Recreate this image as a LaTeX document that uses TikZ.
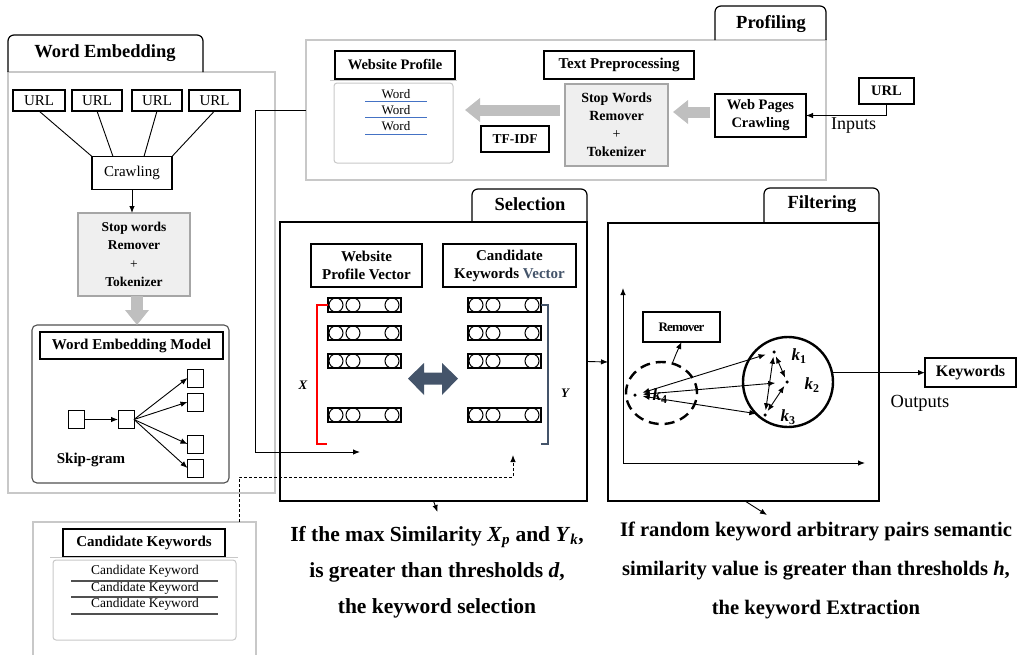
\documentclass[tikz,border=0pt]{standalone}
\usepackage{fontspec}
\setmainfont{Liberation Serif}
\usetikzlibrary{arrows.meta,shapes.geometric,calc}
\definecolor{panelgrey}{HTML}{C8C8C8}
\definecolor{boxgrey}{HTML}{EFEFEF}
\definecolor{arrowgrey}{HTML}{BFBFBF}
\definecolor{slate}{HTML}{44546A}
\definecolor{wordblue}{HTML}{4472C4}
\definecolor{ruleg}{HTML}{505050}
\newcommand\fs[1]{\fontsize{#1}{#1}\selectfont}
\newcommand\bvar[2]{\textbf{\textit{#1}}\textsubscript{\textbf{\textit{#2}}}}

\begin{document}
\begin{tikzpicture}[x=1pt,y=-1pt,
  every node/.style={inner sep=0pt, outer sep=0pt},
  panel/.style={draw=panelgrey, line width=1.2pt},
  frame/.style={draw=black, line width=1.4pt},
  tabline/.style={draw=black, line width=1.2pt, rounded corners=6pt},
  tabtext/.style={font=\fs{18.5}\bfseries},
  box/.style={draw=black, line width=1.2pt, align=center},
  greybox/.style={draw=gray!70, fill=boxgrey, line width=1.2pt, align=center},
  listbox/.style={draw=panelgrey, line width=1pt, rounded corners=3pt, fill=white},
  conn/.style={draw=black, line width=0.9pt},
  arr/.style={conn, -{Latex[length=7pt,width=5.5pt]}},
  biarr/.style={conn, {Latex[length=7pt,width=5.5pt]}-{Latex[length=7pt,width=5.5pt]}},
  bigarrow/.style={draw=arrowgrey, line width=11pt, -{Triangle[length=15pt,width=23pt]}},
  sq/.style={draw=black, line width=1pt, minimum width=16, minimum height=18},
  vrow/.style={draw=black, line width=1.2pt, minimum width=73, minimum height=14},
  dot/.style={circle, fill=black, minimum size=3.5},
  klab/.style={font=\fs{17}\bfseries},
]
\useasboundingbox (0,0) rectangle (1020,654);

% ---------------- Word Embedding ----------------
\node[panel, minimum width=267, minimum height=421, anchor=north west] (wep) at (8,72) {};
\draw[tabline] (wep.north west) -- ++(0,-37) -- ++(195,0) -- ++(0,37);
\node[tabtext] (wet) at (105,53) {Word Embedding};

\node[box, font=\fs{15}, minimum width=52, minimum height=21] (u1) at (39,100.5) {URL};
\node[box, font=\fs{15}, minimum width=50, minimum height=21] (u2) at (97,100.5) {URL};
\node[box, font=\fs{15}, minimum width=50, minimum height=21] (u3) at (157,100.5) {URL};
\node[box, font=\fs{15}, minimum width=51, minimum height=21] (u4) at (214.5,100.5) {URL};
\node[box, font=\fs{15}, minimum width=80, minimum height=33] (crawl) at (132,173) {Crawling};
\draw[conn] (u1.south) -- (crawl.north west);
\draw[conn] (u2.south) -- ([xshift=-19pt]crawl.north);
\draw[conn] (u3.south) -- ([xshift=12pt]crawl.north);
\draw[conn] (u4.south) -- (crawl.north east);

\node[greybox, minimum width=112, minimum height=83, font=\fontsize{13.5}{18.5}\selectfont\bfseries] (sw1) at (134,254.5)
  {Stop words\\Remover\\{\mdseries +}\\Tokenizer};
\draw[arr] (crawl.south) -- (crawl.south |- sw1.north);

\node[draw=ruleg, line width=1.1pt, rounded corners=5pt, minimum width=197, minimum height=158] (wem) at (130.5,404) {};
\draw[bigarrow, line width=12pt] ([xshift=3pt]sw1.south) -- ([xshift=3pt]sw1.south |- wem.north);
\node[box, font=\fs{15}\bfseries, minimum width=183, minimum height=27] (wemt) at (131.5,345.5) {Word Embedding Model};

\node[sq] (sin) at (76,419.5) {};
\node[sq] (smid) at (126,419.5) {};
\node[sq] (so1) at (195.5,378) {};
\node[sq] (so2) at (195.5,402) {};
\node[sq] (so3) at (195.5,444) {};
\node[sq] (so4) at (195.5,468) {};
\draw[arr] (sin) -- (smid);
\foreach \i in {1,...,4} \draw[arr] (smid.east) -- (so\i.west);
\node[font=\fs{15}\bfseries] (skip) at (91,460) {Skip-gram};

% ---------------- Profiling ----------------
\node[panel, minimum width=520, minimum height=140, anchor=north west] (prof) at (306,40) {};
\draw[tabline] (prof.north east) -- ++(0,-34) -- ++(-111,0) -- ++(0,34);
\node[tabtext] (proft) at (771,24) {Profiling};

\node[box, font=\fs{14.5}\bfseries, minimum width=120, minimum height=28] (wpt) at (395,65) {Website Profile};
\draw[panelgrey, line width=0.6pt] (330,80) -- (457,80);
\node[listbox, minimum width=119, minimum height=80] (wpl) at (393.5,123) {};
\node[font=\fs{13}] (w1) at (396,94.5) {Word};
\node[font=\fs{13}] (w2) at (396,110.5) {Word};
\node[font=\fs{13}] (w3) at (396,126.5) {Word};
\foreach \y in {101.5,117.5,134} \draw[wordblue, line width=1pt] (365,\y) -- (427,\y);

\node[box, font=\fs{13.5}\bfseries, minimum width=68, minimum height=26] (tfidf) at (515,139) {TF-IDF};
\node[box, font=\fs{15}\bfseries, minimum width=150, minimum height=28] (tpp) at (619,65) {Text Preprocessing};
\node[greybox, minimum width=103, minimum height=82, font=\fontsize{14}{18}\selectfont\bfseries] (sw2) at (616.5,125)
  {Stop Words\\Remover\\{\mdseries +}\\Tokenizer};
\draw[bigarrow] ($(sw2.west)+(-5,-15)$) -- ($(wpl.east)+(12,-13)$);

\node[box, font=\fontsize{14.5}{18}\selectfont\bfseries, minimum width=91, minimum height=43] (wpc) at (760.5,115.5) {Web Pages\\Crawling};
\draw[bigarrow] ($(wpc.west)+(-5,-3.5)$) -- ($(sw2.east)+(5,-13)$);

\node[box, font=\fs{14.5}\bfseries, minimum width=55, minimum height=26] (url) at (886.5,91) {URL};
\draw[arr] (url.south) |- (wpc.east);
\node[font=\fs{18}] (inp) at (853.5,126) {Inputs};

\coordinate (selin) at (360,452);
\draw[arr] (prof.west) -- ++(-51,0) |- (selin);

% ---------------- Selection ----------------
\node[frame, minimum width=307, minimum height=279, anchor=north west] (selp) at (280,222) {};
\draw[tabline] (selp.north east) -- ++(0,-33) -- ++(-115,0) -- ++(0,33);
\node[tabtext] (selt) at (530,204) {Selection};

\node[box, font=\fontsize{15}{18}\selectfont\bfseries, minimum width=111, minimum height=43] (wpv) at (366.5,265.5) {Website\\Profile Vector};
\node[box, font=\fontsize{15}{18}\selectfont\bfseries, minimum width=133, minimum height=43] (ckv) at (509.5,265.5) {Candidate\\Keywords {\color{slate}Vector}};

\foreach \n/\y in {1/305,2/333,3/361,4/415} {
  \node[vrow] (lv\n) at (364.5,\y) {};
  \node[vrow] (rv\n) at (504.5,\y) {};
  \foreach \dx in {-28.5,-11.5,27.5} {
    \draw[line width=1pt] ([xshift=\dx pt]lv\n.center) circle[radius=7];
    \draw[line width=1pt] ([xshift=\dx pt]rv\n.center) circle[radius=7];
  }
}
\draw[red, line width=2.5pt] (lv1.west) -- ++(-11,0) -- ++(0,139) -- ++(10,0);
\draw[slate, line width=2.5pt] (rv1.east) -- ++(7,0) -- ++(0,139) -- ++(-7,0);
\node[font=\fs{13}\bfseries\itshape] (xl) at (303,385) {X};
\node[font=\fs{13}\bfseries\itshape] (yl) at (565,393) {Y};

% two-way comparison arrow
\fill[slate] (408,378.5) -- (424,363) -- (424,372.5) -- (442,372.5) -- (442,363) -- (458,378.5)
  -- (442,395) -- (442,384.5) -- (424,384.5) -- (424,395) -- cycle;

% ---------------- Candidate Keywords ----------------
\node[panel, minimum width=223, minimum height=140, anchor=north west] (ckp) at (33,522) {};
\node[box, font=\fs{15}\bfseries, minimum width=162, minimum height=28] (ckt) at (144,543) {Candidate Keywords};
\draw[panelgrey, line width=0.6pt] (50,557) -- (238,557);
\node[listbox, minimum width=183, minimum height=80] (ckl) at (144.5,600) {};
\node[font=\fs{13.4}] (c1) at (145,571) {Candidate Keyword};
\node[font=\fs{13.4}] (c2) at (145,588) {Candidate Keyword};
\node[font=\fs{13.4}] (c3) at (145,604) {Candidate Keyword};
\foreach \y in {581,597,614} \draw[ruleg, line width=1.2pt] (71,\y) -- (218,\y);

\coordinate (ckin) at (513,455);
\draw[arr, dash pattern=on 3pt off 2pt] ([xshift=-17pt]ckp.north east) |- ++(274,-45) -- (ckin);

% ---------------- Filtering ----------------
\node[frame, minimum width=271, minimum height=278, anchor=north west] (filp) at (608,223) {};
\draw[tabline] (filp.north east) -- ++(0,-35) -- ++(-115,0) -- ++(0,35);
\node[tabtext] (filt) at (822,204) {Filtering};
\draw[arr] (selp.east) -- (filp.west);

\coordinate (orig) at (623,463);
\draw[arr, line width=1pt] (orig) -- ++(0,-175);
\draw[arr, line width=1pt] (orig) -- ++(242,0);

\node[box, font=\fs{13}\bfseries, minimum width=77, minimum height=30] (rem) at (681.5,327) {\addfontfeatures{LetterSpace=-6}Remover};
\node[ellipse, draw, line width=2.4pt, dash pattern=on 10pt off 6pt, minimum width=71, minimum height=62] (cl4) at (661.5,393) {};
\draw[arr] (cl4.70) -- ++(4,-10) -- (rem.south);
\node[circle, draw, line width=2.4pt, minimum size=90] (circ) at (788,382) {};

\node[dot] (k1) at (774,352) {};
\node[dot] (k2) at (787,382) {};
\node[dot] (k3) at (765,415) {};
\node[dot] (k4) at (635,395) {};
\node[klab] (k1l) at (799,356) {\textit{k}\textsubscript{1}};
\node[klab] (k2l) at (812,385) {\textit{k}\textsubscript{2}};
\node[klab] (k3l) at (788,417) {\textit{k}\textsubscript{3}};
\node[klab] (k4l) at (660,396) {\textit{k}\textsubscript{4}};

\draw[biarr, shorten <=6pt, shorten >=7pt] (k4) -- (k1);
\draw[biarr, shorten <=6pt, shorten >=10pt] (k4) -- (k2);
\draw[biarr, shorten <=6pt, shorten >=7pt] (k4) -- (k3);
\draw[biarr, shorten <=3pt, shorten >=3pt] (k1) -- (k3);
\draw[biarr, shorten <=3pt, shorten >=3pt] (k1) -- (k2);
\draw[biarr, shorten <=3pt, shorten >=3pt] (k2) -- (k3);

\node[box, font=\fs{16}\bfseries, minimum width=91, minimum height=29] (kw) at (970.5,372.5) {Keywords};
\draw[arr] (circ.12) -- (circ.12 -| kw.west);
\node[font=\fs{18.5}] (outp) at (920,403) {Outputs};

% ---------------- Conditions ----------------
\draw[arr] (selp.south) -- ++(4,11);
\draw[arr] ([xshift=1.5pt]filp.south) -- ++(22,14);
\node[font=\fontsize{21.5}{36}\selectfont\bfseries, align=center, anchor=north] (seltxt) at (437,526)
  {If the max Similarity \bvar{X}{p} and \bvar{Y}{k},\\is greater than thresholds \textit{d},\\the keyword selection};
\node[font=\fontsize{20.6}{39}\selectfont\bfseries, align=center, anchor=north] (filtxt) at (816,522)
  {If random keyword arbitrary pairs semantic\\similarity value is greater than thresholds \textit{h},\\the keyword Extraction};
\end{tikzpicture}
\end{document}
